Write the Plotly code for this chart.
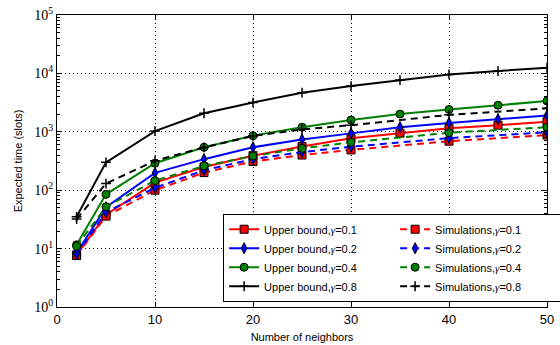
import plotly.graph_objects as go

# Data
x_ub = [2, 5, 10, 15, 20, 25, 30, 35, 40, 45, 50]
x_sim = [2, 5, 10, 15, 20, 25, 30, 40, 50]

ub_01 = [7.8, 38, 135, 250, 390, 560, 775, 950, 1150, 1300, 1490]
ub_02 = [8.4, 51, 198, 340, 543, 740, 940, 1200, 1420, 1650, 1900]
ub_04 = [11.6, 85, 290, 543, 855, 1200, 1590, 2010, 2410, 2850, 3370]
ub_08 = [35, 300, 1030, 2080, 3170, 4670, 6060, 7680, 9600, 11000, 12500]

sim_01 = [7.6, 36, 100, 200, 310, 400, 490, 690, 880]
sim_02 = [8, 42, 110, 220, 340, 450, 555, 780, 980]
sim_04 = [11, 52, 146, 260, 385, 520, 660, 965, 1200]
sim_08 = [32, 130, 320, 540, 850, 1100, 1300, 1950, 2520]

gammas = ["0.1", "0.2", "0.4", "0.8"]
ub_series = [ub_01, ub_02, ub_04, ub_08]
sim_series = [sim_01, sim_02, sim_04, sim_08]

colors = ["#ff0000", "#0000ff", "#008000", "#000000"]
symbols = ["square", "diamond-tall", "circle", "cross-thin"]

GAMMA = '<span style="font-family:Liberation Serif, DejaVu Serif"><i>γ</i></span>'

fig = go.Figure()
for i, g in enumerate(gammas):
    mk = dict(symbol=symbols[i], size=8 if i < 3 else 7, color=colors[i],
              line=dict(color="#000000" if i < 3 else colors[i], width=1 if i < 3 else 1.5))
    fig.add_trace(go.Scatter(
        x=x_ub, y=ub_series[i], mode="lines+markers",
        name="Upper bound," + GAMMA + "=" + g,
        line=dict(color=colors[i], width=2),
        marker=mk, legendrank=2 * i + 1))
    fig.add_trace(go.Scatter(
        x=x_sim, y=sim_series[i], mode="lines+markers",
        name="Simulations," + GAMMA + "=" + g,
        line=dict(color=colors[i], width=2, dash="7px,5px"),
        marker=mk, legendrank=2 * i + 2))

fig.update_layout(
    width=560, height=345,
    margin=dict(l=57, r=13, t=15, b=38, autoexpand=False),
    paper_bgcolor="white", plot_bgcolor="white",
    font=dict(family="Liberation Sans, Arial", size=11, color="black"),
    showlegend=True,
    legend=dict(
        orientation="h", x=0.339, y=0.018, xanchor="left", yanchor="bottom",
        bgcolor="white", bordercolor="black", borderwidth=1,
        font=dict(size=11), entrywidth=126, tracegroupgap=0,
        itemwidth=30,
    ),
)

fig.update_xaxes(
    range=[0, 50], dtick=10, ticks="inside", ticklen=5, tickcolor="black",
    showline=True, linecolor="black", linewidth=1, mirror="ticks",
    showgrid=True, gridcolor="black", griddash="1px,3px", gridwidth=1,
    zeroline=False,
    tickfont=dict(family="Liberation Sans, Arial", size=13),
    title=dict(text="Number of neighbors", font=dict(size=11), standoff=7),
)

fig.update_yaxes(
    type="log", range=[0, 5],
    tickvals=[1, 10, 100, 1000, 10000, 100000],
    ticktext=["10<sup>0</sup>", "10<sup>1</sup>", "10<sup>2</sup>", "10<sup>3</sup>",
              "10<sup>4</sup>", "10<sup>5</sup>"],
    ticks="inside", ticklen=5, tickcolor="black",
    minor=dict(ticks="inside", ticklen=3, tickcolor="black", showgrid=False, dtick="D1"),
    showline=True, linecolor="black", linewidth=1, mirror="ticks",
    showgrid=True, gridcolor="black", griddash="1px,3px", gridwidth=1,
    zeroline=False, ticklabeloverflow="allow",
    tickfont=dict(family="Liberation Serif, DejaVu Serif", size=14),
    title=dict(text="Expected time (slots)", font=dict(size=11), standoff=9),
)

fig.write_html("out.html", config={"displayModeBar": False},
               post_script="document.body.style.margin='0';")
